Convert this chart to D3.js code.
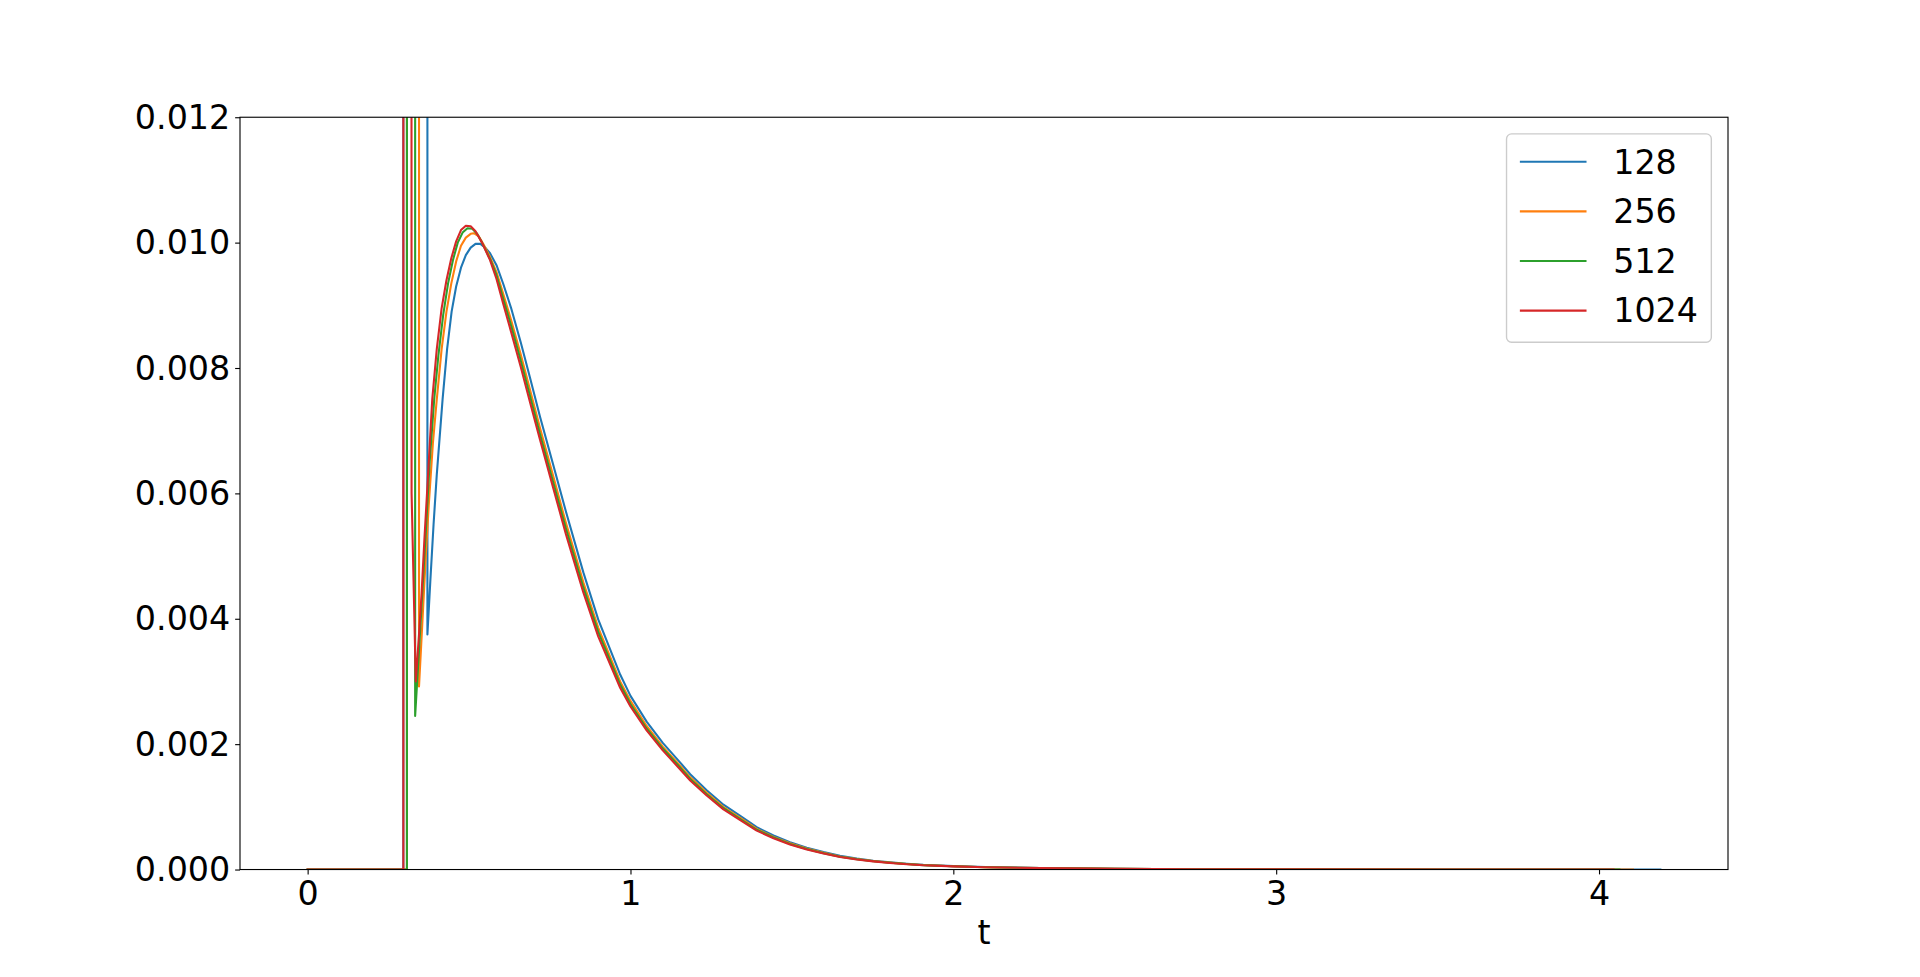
<!DOCTYPE html>
<html>
<head>
<meta charset="utf-8">
<script src="https://cdn.jsdelivr.net/npm/d3@7"></script>
<style>
  body { margin: 0; background: #ffffff; }
  svg { display: block; }
  text { font-family: "DejaVu Sans", sans-serif; fill: #000; }
</style>
</head>
<body>
<svg id="chart" width="1920" height="977"></svg>
<script>
// ---------------- data ----------------
const seriesNames = ["128", "256", "512", "1024"];
const seriesColors = ["#1f77b4", "#ff7f0e", "#2ca02c", "#d62728"];
const xTickValues = [0, 1, 2, 3, 4];
const yTickValues = [0.000, 0.002, 0.004, 0.006, 0.008, 0.010, 0.012];
const yLimits = [0, 0.012];
const xLabel = "t";

// off-chart spike level (clipped at the top of the axes)
const spike = 0.05;

// head part (start, spike, dip and rise) for each series
const t128Head = [0, 0.2965, 0.2965, 0.371, 0.371, 0.38, 0.39, 0.40, 0.418, 0.432, 0.446, 0.46, 0.475, 0.49, 0.505, 0.52, 0.535, 0.55];
const v128Head = [0, 0, spike, spike, 0.00375, 0.0046, 0.0055, 0.0063, 0.0075, 0.0083, 0.0089, 0.0093, 0.0096, 0.0098, 0.00992, 0.00998, 0.00998, 0.00992];

const t256Head = [0, 0.3075, 0.3075, 0.345, 0.345, 0.355, 0.365, 0.375, 0.388, 0.40, 0.415, 0.43, 0.445, 0.46, 0.475, 0.49, 0.505, 0.515, 0.53, 0.545];
const v256Head = [0, 0, spike, spike, 0.00292, 0.0039, 0.0049, 0.0058, 0.0068, 0.0075, 0.0083, 0.0089, 0.00935, 0.0097, 0.00995, 0.01008, 0.01014, 0.01015, 0.0101, 0.00997];

const t512Head = [0, 0.3075, 0.3075, 0.333, 0.333, 0.345, 0.355, 0.365, 0.378, 0.392, 0.405, 0.42, 0.435, 0.45, 0.465, 0.48, 0.495, 0.51, 0.525, 0.54];
const v512Head = [0, 0, spike, spike, 0.00245, 0.0035, 0.0044, 0.0053, 0.0065, 0.0075, 0.0082, 0.00885, 0.00935, 0.00972, 0.0100, 0.01016, 0.01023, 0.01022, 0.01014, 0.0100];

const t1024Head = [0, 0.2965, 0.2965, 0.320, 0.322, 0.335, 0.345, 0.353, 0.362, 0.372, 0.386, 0.40, 0.415, 0.43, 0.445, 0.46, 0.475, 0.49, 0.505, 0.52, 0.54];
const v1024Head = [0, 0, spike, spike, 0.006, 0.0030, 0.00375, 0.0044, 0.0053, 0.0062, 0.0075, 0.0083, 0.00895, 0.0094, 0.00975, 0.01002, 0.0102, 0.01027, 0.01026, 0.01018, 0.0100];

// decaying part, common t grid
const tTail = [0.565, 0.585, 0.606, 0.63, 0.66, 0.689, 0.72, 0.76, 0.80, 0.854, 0.90, 0.968, 1.0, 1.05, 1.10, 1.15, 1.185, 1.236, 1.288, 1.34, 1.391, 1.443, 1.494, 1.546, 1.598, 1.649, 1.701, 1.752, 1.804, 1.856, 1.907, 2.0, 2.1, 2.27, 2.5, 2.75, 3.0, 3.5];
const v128Tail = [0.00983, 0.00964, 0.00934, 0.00896, 0.00841, 0.00784, 0.00722, 0.00647, 0.00571, 0.00474, 0.00399, 0.00311, 0.00277, 0.00236, 0.00202, 0.00173, 0.00152, 0.001266, 0.001034, 0.000856, 0.000676, 0.000542, 0.000436, 0.000348, 0.000279, 0.000218, 0.000174, 0.000141, 0.000114, 0.000092, 0.000074, 0.000054, 0.000039, 0.000024, 0.000012, 0.000005, 0.0000025, 0.0000006];
const v256Tail = [0.00977, 0.00953, 0.00918, 0.00877, 0.00822, 0.00765, 0.00704, 0.00629, 0.00553, 0.00458, 0.00386, 0.00300, 0.00269, 0.00229, 0.00196, 0.001675, 0.00147, 0.001223, 0.000997, 0.000823, 0.000648, 0.000521, 0.000418, 0.000334, 0.000267, 0.000209, 0.000167, 0.000135, 0.00011, 0.000088, 0.000071, 0.000052, 0.000037, 0.000023, 0.000011, 0.000005, 0.0000025, 0.0000006];
const v512Tail = [0.00974, 0.00948, 0.0091, 0.00868, 0.00812, 0.00755, 0.00694, 0.00619, 0.00544, 0.0045, 0.00379, 0.00295, 0.00264, 0.00225, 0.00193, 0.00165, 0.001445, 0.0012, 0.000978, 0.000806, 0.000634, 0.00051, 0.000409, 0.000327, 0.000261, 0.000205, 0.000163, 0.000132, 0.000107, 0.000087, 0.000069, 0.000051, 0.000036, 0.000022, 0.000011, 0.000005, 0.0000025, 0.0000006];
const v1024Tail = [0.00972, 0.00942, 0.00902, 0.00858, 0.00802, 0.00745, 0.00685, 0.0061, 0.00535, 0.00442, 0.00372, 0.0029, 0.0026, 0.00222, 0.0019, 0.00162, 0.00142, 0.00118, 0.00096, 0.00079, 0.00062, 0.0005, 0.0004, 0.00032, 0.000255, 0.0002, 0.00016, 0.00013, 0.000105, 0.000085, 0.000068, 0.00005, 0.000036, 0.000022, 0.000011, 0.000005, 0.0000025, 0.0000006];

// last sample of each series
const tEnd = [4.19, 4.105, 4.063, 4.045];
const vEnd = [0, 0, 0, 0];

// ---------------- build series ----------------
const heads = [[t128Head, v128Head], [t256Head, v256Head], [t512Head, v512Head], [t1024Head, v1024Head]];
const tails = [v128Tail, v256Tail, v512Tail, v1024Tail];
const seriesList = seriesNames.map((name, i) => {
  const pts = [];
  heads[i][0].forEach((t, j) => pts.push([t, heads[i][1][j]]));
  tTail.forEach((t, j) => pts.push([t, tails[i][j]]));
  pts.push([tEnd[i], vEnd[i]]);
  return { name, color: seriesColors[i], pts };
});

// ---------------- layout ----------------
(function draw() {
  const W = 1920, H = 977;
  const axL = 240, axR = 1728, axT = 117.24, axB = 869.53;
  const fs = 33.33; // 24pt
  const tickLen = 4.86, tickPad = 4.86;

  const svg = d3.select("#chart");
  svg.append("rect").attr("width", W).attr("height", H).attr("fill", "#fff");

  const allT = seriesList.flatMap(s => s.pts.map(p => p[0]));
  const tMin = d3.min(allT), tMax = d3.max(allT);
  const span = tMax - tMin;
  const x = d3.scaleLinear().domain([tMin - 0.05 * span, tMax + 0.05 * span]).range([axL, axR]);
  const y = d3.scaleLinear().domain(yLimits).range([axB, axT]);

  svg.append("defs").append("clipPath").attr("id", "clip")
    .append("rect").attr("x", axL).attr("y", axT).attr("width", axR - axL).attr("height", axB - axT);

  const line = d3.line().x(d => x(d[0])).y(d => y(d[1]));

  const gLines = svg.append("g").attr("clip-path", "url(#clip)");
  seriesList.forEach(s => {
    gLines.append("path")
      .attr("d", line(s.pts))
      .attr("fill", "none")
      .attr("stroke", s.color)
      .attr("stroke-width", 2.08)
      .attr("stroke-linejoin", "round")
      .attr("stroke-linecap", "square");
  });

  const xAxis = d3.axisBottom(x).tickValues(xTickValues).tickFormat(d3.format("d"))
    .tickSize(tickLen).tickSizeOuter(0).tickPadding(tickPad);
  const gx = svg.append("g").attr("transform", `translate(0,${axB})`).call(xAxis);
  gx.select(".domain").remove();
  gx.selectAll(".tick line").attr("stroke", "#000").attr("stroke-width", 1.11);
  gx.selectAll(".tick text").attr("font-size", fs).attr("font-family", "DejaVu Sans").attr("fill", "#000").attr("dy", "0.76em");

  const yAxis = d3.axisLeft(y).tickValues(yTickValues).tickFormat(d3.format(".3f"))
    .tickSize(tickLen).tickSizeOuter(0).tickPadding(tickPad);
  const gy = svg.append("g").attr("transform", `translate(${axL},0)`).call(yAxis);
  gy.select(".domain").remove();
  gy.selectAll(".tick line").attr("stroke", "#000").attr("stroke-width", 1.11);
  gy.selectAll(".tick text").attr("font-size", fs).attr("font-family", "DejaVu Sans").attr("fill", "#000").attr("dy", "0.33em");

  svg.append("rect").attr("x", axL).attr("y", axT).attr("width", axR - axL).attr("height", axB - axT)
    .attr("fill", "none").attr("stroke", "#000").attr("stroke-width", 1.11);

  svg.append("text").attr("x", (axL + axR) / 2).attr("y", 943.5)
    .attr("text-anchor", "middle").attr("font-size", fs).text(xLabel);

  const pad = 0.5 * fs;
  const lgW = 204.8, lgH = 208.4;
  const lgX = axR - pad - lgW, lgY = axT + pad;
  const lg = svg.append("g");
  lg.append("rect").attr("x", lgX).attr("y", lgY).attr("width", lgW).attr("height", lgH)
    .attr("rx", 5).attr("ry", 5)
    .attr("fill", "#fff").attr("fill-opacity", 0.8)
    .attr("stroke", "#cccccc").attr("stroke-width", 1.39);
  const rowStep = 49.65;
  seriesList.forEach((s, i) => {
    const cy = lgY + 27.8 + i * rowStep;
    const hx0 = lgX + 0.4 * fs;
    const hx1 = hx0 + 2 * fs;
    lg.append("line").attr("x1", hx0).attr("x2", hx1).attr("y1", cy).attr("y2", cy)
      .attr("stroke", s.color).attr("stroke-width", 2.08);
    lg.append("text").attr("x", hx1 + 0.8 * fs).attr("y", cy + 11.8)
      .attr("font-size", fs).text(s.name);
  });
})();
</script>
</body>
</html>
